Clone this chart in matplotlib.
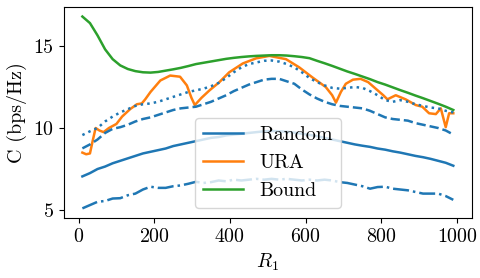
import matplotlib
matplotlib.use("Agg")
import matplotlib.pyplot as plt
import numpy as np

plt.rcParams["font.family"] = "serif"
plt.rcParams["font.serif"] = ["cmr10"]
plt.rcParams["mathtext.fontset"] = "cm"
plt.rcParams["axes.formatter.use_mathtext"] = True
plt.rcParams["font.size"] = 14.4

# Dati
r1 = np.arange(10, 1000, 20)

random_up = [9.57, 9.8, 10.0, 10.4, 10.7, 10.95, 11.15, 11.35, 11.45, 11.5,
             11.6, 11.75, 11.9, 12.05, 12.2, 12.3, 12.4, 12.55, 12.75, 13.05,
             13.4, 13.7, 13.9, 14.0, 14.1, 14.12, 14.05, 13.9, 13.7, 13.4,
             13.05, 12.8, 12.6, 12.45, 12.4, 12.45, 12.5, 12.45, 12.25, 12.0,
             11.7, 11.6, 11.7, 11.6, 11.45, 11.35, 11.25, 11.2, 11.05, 10.95]

random_q3 = [8.76, 9.0, 9.3, 9.7, 9.95, 10.05, 10.2, 10.4, 10.55, 10.65,
             10.8, 10.95, 11.1, 11.2, 11.25, 11.3, 11.45, 11.6, 11.8, 12.0,
             12.25, 12.45, 12.65, 12.8, 12.95, 13.0, 13.0, 12.85, 12.7, 12.35,
             12.05, 11.8, 11.6, 11.45, 11.35, 11.3, 11.25, 11.2, 11.05, 10.85,
             10.65, 10.55, 10.5, 10.45, 10.3, 10.2, 10.1, 10.0, 9.85, 9.6]

random_mean = [7.05, 7.25, 7.5, 7.65, 7.85, 8.0, 8.15, 8.3, 8.45, 8.55,
               8.65, 8.75, 8.9, 9.0, 9.1, 9.2, 9.3, 9.4, 9.45, 9.55,
               9.6, 9.65, 9.7, 9.75, 9.8, 9.82, 9.8, 9.78, 9.72, 9.65,
               9.58, 9.5, 9.4, 9.3, 9.2, 9.1, 9.0, 8.92, 8.85, 8.75,
               8.68, 8.58, 8.5, 8.4, 8.3, 8.22, 8.12, 8.0, 7.88, 7.7]

random_low = [5.1, 5.3, 5.5, 5.55, 5.7, 5.72, 5.9, 6.0, 6.25, 6.42,
              6.35, 6.35, 6.45, 6.5, 6.6, 6.72, 6.65, 6.7, 6.8, 6.75,
              6.85, 6.8, 6.85, 6.9, 6.85, 6.9, 6.85, 6.9, 6.85, 6.8,
              6.85, 6.8, 6.85, 6.8, 6.7, 6.65, 6.55, 6.45, 6.3, 6.4,
              6.42, 6.3, 6.25, 6.2, 6.1, 6.0, 6.0, 6.0, 5.85, 5.62]

bound = [16.8, 16.4, 15.65, 14.8, 14.2, 13.82, 13.6, 13.47, 13.4, 13.38,
         13.42, 13.5, 13.58, 13.67, 13.78, 13.9, 13.98, 14.06, 14.14, 14.22,
         14.28, 14.33, 14.37, 14.4, 14.42, 14.44, 14.44, 14.42, 14.38, 14.33,
         14.26, 14.1, 13.95, 13.79, 13.62, 13.45, 13.3, 13.14, 12.98, 12.8,
         12.65, 12.48, 12.31, 12.15, 11.98, 11.82, 11.65, 11.48, 11.3, 11.1]

ura_r1 = [10, 20, 30, 38, 45, 55, 66, 80, 100, 115, 136, 154, 167, 176, 190,
          216, 242, 268, 286, 298, 307, 325, 346, 372, 398, 434, 469, 504,
          548, 583, 617, 653, 670, 680, 693, 706, 725, 745, 765, 785, 805,
          816, 838, 864, 891, 908, 926, 944, 957, 970, 979, 990]
ura = [8.5, 8.4, 8.45, 9.3, 10.0, 9.85, 9.75, 10.0, 10.25, 10.7, 11.15, 11.45,
       11.5, 11.75, 12.2, 12.9, 13.2, 13.13, 12.6, 11.85, 11.4, 11.85, 12.3,
       12.8, 13.4, 13.94, 14.25, 14.4, 14.2, 13.7, 13.1, 12.5, 12.0, 11.55,
       12.2, 12.7, 12.95, 13.0, 12.8, 12.4, 12.0, 11.75, 12.0, 11.75, 11.4,
       11.3, 10.9, 10.85, 11.2, 10.05, 10.9, 10.9]

fig, ax = plt.subplots(figsize=(4.8, 2.78), dpi=100)
fig.subplots_adjust(left=0.133, right=0.983, top=0.975, bottom=0.216)

lw = 1.8
ax.plot(r1, random_mean, color="tab:blue", linewidth=lw, label="Random")
ax.plot(ura_r1, ura, color="tab:orange", linewidth=lw, label="URA")
ax.plot(r1, bound, color="tab:green", linewidth=lw, label="Bound")
ax.plot(r1, random_up, color="tab:blue", linewidth=lw, linestyle=":")
ax.plot(r1, random_q3, color="tab:blue", linewidth=lw, linestyle="--")
ax.plot(r1, random_low, color="tab:blue", linewidth=lw, linestyle="-.")

ax.set_xticks([0, 200, 400, 600, 800, 1000])
ax.set_yticks([5, 10, 15])
ax.set_xlabel("$R_1$")
ax.set_ylabel("C (bps/Hz)")
ax.legend(loc="lower center")

plt.savefig("out.png", dpi=100)
